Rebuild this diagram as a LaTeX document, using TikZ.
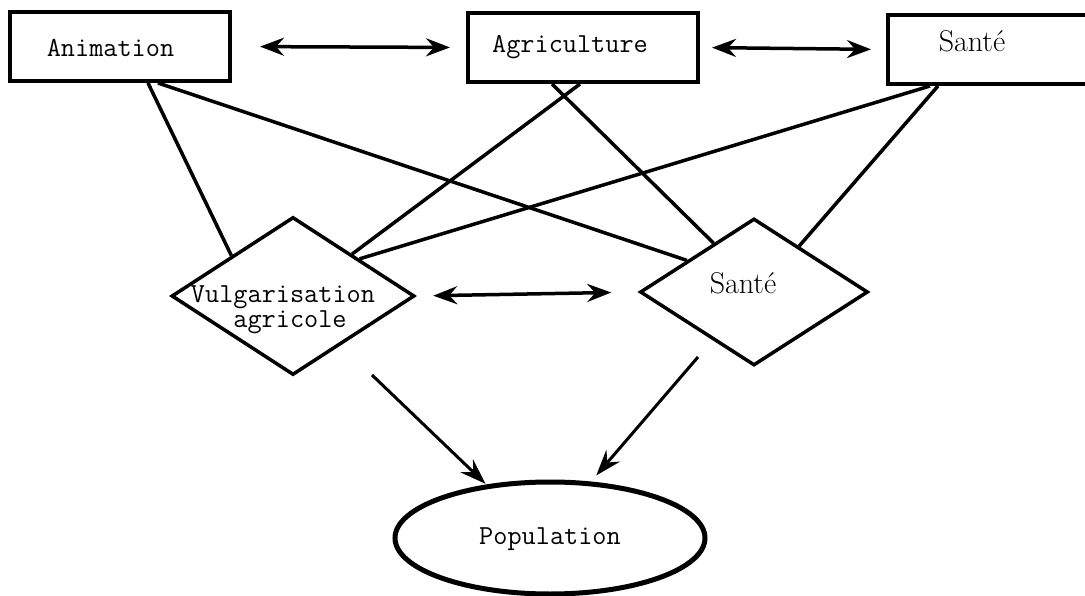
\documentclass[tikz,border=0pt]{standalone}
\usetikzlibrary{shapes.geometric,calc,arrows.meta}
\begin{document}
\begin{tikzpicture}[x=1pt,y=-1pt,
  box/.style={draw, line width=4pt, rectangle, inner sep=0pt},
  dia/.style={draw, line width=3.5pt, diamond, inner sep=0pt},
  pill/.style={draw, line width=5pt, ellipse, inner sep=0pt},
  link/.style={line width=3.5pt},
  both/.style={line width=3.5pt, {Stealth[length=24pt,width=18pt,inset=8pt]}-{Stealth[length=24pt,width=18pt,inset=8pt]}},
  toward/.style={line width=3pt, -{Stealth[length=26pt,width=18pt,inset=9pt]}},
  tt/.style={inner sep=0pt, anchor=base, font=\ttfamily\fontsize{27.5}{25}\selectfont},
  rm/.style={inner sep=0pt, anchor=base, font=\rmfamily\fontsize{30}{25}\selectfont}]

\useasboundingbox (0,0) rectangle (1085,596);
\fill[white] (0,0) rectangle (1085,596);
\clip (0,0) rectangle (1085,596);

% top row of services
\node[box, minimum width=220pt, minimum height=69pt] (anim) at (120,46.5) {};
\node[box, minimum width=230pt, minimum height=69pt] (agri) at (583,47.5) {};
\node[box, minimum width=212pt, minimum height=69pt] (santeb) at (994,49.5) {};
\node[tt] (animt) at (110.5,57) {Animation};
\node[tt] (agrit) at (570,53) {Agriculture};
\node[rm] (santebt) at (972,52) {Santé};

% field agents
\node[dia, minimum width=243pt, minimum height=158pt] (vulg) at (293,296) {};
\node[dia, minimum width=228pt, minimum height=147pt] (santed) at (754,292) {};
\node[tt, align=center] (vulgt) at (283,327) {Vulgarisation\\\hspace*{14pt}agricole};
\node[rm] (santedt) at (743,294) {Santé};

% population
\node[pill, minimum width=310pt, minimum height=112pt] (pop) at (550,538) {};
\node[tt] (popt) at (550,544) {Population};

% links from services to agents
\draw[link] ([xshift=28pt]anim.south) -- ($(vulg.north)!0.5!(vulg.west)$);
\draw[link] ([xshift=38pt]anim.south) -- ($(santed.north)!0.58!(santed.west)$);
\draw[link] ([xshift=-3pt]agri.south) -- ($(vulg.north)!0.48!(vulg.east)$);
\draw[link] ([xshift=-31pt]agri.south) -- ($(santed.north)!0.35!(santed.west)$);
\draw[link] ([xshift=-64pt]santeb.south) -- ($(vulg.north)!0.54!(vulg.east)$);
\draw[link] ([xshift=-56pt]santeb.south) -- ($(santed.north)!0.39!(santed.east)$);

% two-way exchanges
\draw[both, shorten <=28pt, shorten >=16pt] (anim.east) -- (agri.west);
\draw[both, shorten <=12pt, shorten >=15pt] (agri.east) -- (santeb.west);
\draw[both, shorten <=17pt, shorten >=27pt] (vulg.east) -- (santed.west);

% action on the population
\coordinate (vfrom) at (372,375);
\coordinate (sfrom) at (698,357);
\draw[toward, shorten >=1pt] (vfrom) -- (pop.140);
\draw[toward, shorten >=8pt] (sfrom) -- (pop.54);
\end{tikzpicture}
\end{document}
